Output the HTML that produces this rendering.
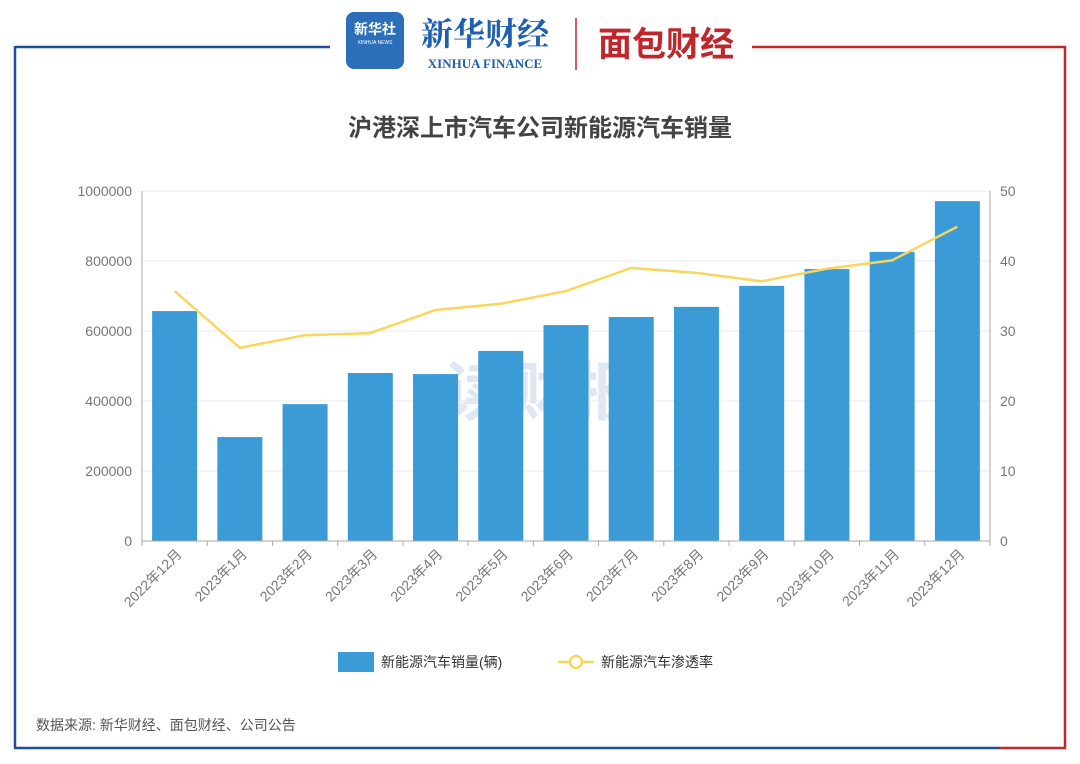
<!DOCTYPE html>
<html><head><meta charset="utf-8">
<style>
body{margin:0;width:1080px;height:764px;background:#fff;overflow:hidden;font-family:"Liberation Sans","Noto Sans CJK SC",sans-serif;}
svg{position:absolute;left:0;top:0}
</style></head><body>
<svg id="c" width="1080" height="764">
  <g>
    <line x1="15" y1="47" x2="330" y2="47" stroke="#1f4e9c" stroke-width="2.5"/>
    <line x1="15" y1="46" x2="15" y2="748" stroke="#1f4e9c" stroke-width="2.5"/>
    <line x1="14" y1="748" x2="1000" y2="748" stroke="#1f4e9c" stroke-width="2.5"/>
    <line x1="1000" y1="748" x2="1066" y2="748" stroke="#c0272d" stroke-width="2.5"/>
    <line x1="752" y1="47" x2="1066" y2="47" stroke="#c0272d" stroke-width="2.5"/>
    <line x1="1065" y1="46" x2="1065" y2="749" stroke="#c0272d" stroke-width="2.5"/>
  </g>
  <g>
    <rect x="346" y="12" width="58" height="57" rx="8" fill="#2a6fb8"/>
    <text x="375" y="34" font-size="14" fill="#fff" text-anchor="middle" font-weight="bold">新华社</text>
    <text x="375" y="44" font-size="5" fill="#fff" text-anchor="middle">XINHUA NEWS</text>
    <text x="485" y="45" font-size="32" fill="#1f5fb0" text-anchor="middle" font-weight="bold" font-family="'Noto Serif CJK SC',serif">新华财经</text>
    <text x="485" y="68" font-size="13" fill="#1f5fb0" text-anchor="middle" font-weight="bold" font-family="'Liberation Serif',serif">XINHUA FINANCE</text>
    <line x1="576" y1="18" x2="576" y2="70" stroke="#c0272d" stroke-width="1.5"/>
    <text x="666" y="56" font-size="34" fill="#c0272d" text-anchor="middle" font-weight="bold">面包财经</text>
  </g>
  <text x="540" y="136" font-size="24" font-weight="bold" fill="#444" text-anchor="middle">沪港深上市汽车公司新能源汽车销量</text>
  <text x="540" y="415" font-size="64" font-weight="bold" fill="#d4deec" text-anchor="middle" opacity="0.7">读财报</text>
  <g id="grid"></g><g id="bars"></g><g id="line"></g><g id="axes"></g>
  <g>
    <rect x="338" y="652" width="36" height="20" fill="#3a9bd6"/>
    <text x="381" y="667" font-size="14" fill="#333">新能源汽车销量(辆)</text>
    <line x1="558" y1="662" x2="594" y2="662" stroke="#f9d65c" stroke-width="2.5"/>
    <circle cx="576" cy="662" r="6" fill="#fff" stroke="#f9d65c" stroke-width="2.5"/>
    <text x="601" y="667" font-size="14" fill="#333">新能源汽车渗透率</text>
  </g>
  <text x="36" y="730" font-size="14" fill="#555">数据来源: 新华财经、面包财经、公司公告</text>
</svg>
<script>
const categories=["2022年12月","2023年1月","2023年2月","2023年3月","2023年4月","2023年5月","2023年6月","2023年7月","2023年8月","2023年9月","2023年10月","2023年11月","2023年12月"];
const sales=[657000,297000,391000,480000,477000,543000,617000,640000,669000,729000,777000,826000,971000];
const penetration=[35.7,27.6,29.4,29.7,33.0,33.9,35.7,39.0,38.3,37.1,38.9,40.1,44.9];
const leftTicks=[0,200000,400000,600000,800000,1000000];
const rightTicks=[0,10,20,30,40,50];
const NS="http://www.w3.org/2000/svg";
const X0=142,X1=990,Y0=541,Y1=191;
const bw=(X1-X0)/categories.length;
const xC=i=>X0+bw*(i+0.5);
const yL=v=>Y0-(v/1000000)*(Y0-Y1);
const yR=v=>Y0-(v/50)*(Y0-Y1);
function mk(tag,attrs,parent){const e=document.createElementNS(NS,tag);for(const k in attrs)e.setAttribute(k,attrs[k]);document.getElementById(parent).appendChild(e);return e;}
leftTicks.forEach((t,i)=>{
  const y=yL(t);
  if(i>0){const g=mk('line',{x1:X0,x2:X1,y1:y,y2:y,stroke:'#e4e8f0'},'grid');
  
  }
  const tx=mk('text',{x:X0-10,y:y+5,'font-size':14,fill:'#777','text-anchor':'end'},'axes');tx.textContent=t;
  
  
});
rightTicks.forEach(t=>{
  const tx=mk('text',{x:X1+10,y:yR(t)+5,'font-size':14,fill:'#777'},'axes');tx.textContent=t;
  
  
});
mk('line',{x1:X0,x2:X0,y1:Y1,y2:Y0,stroke:'#aaa'},'axes');
mk('line',{x1:X1,x2:X1,y1:Y1,y2:Y0,stroke:'#aaa'},'axes');
mk('line',{x1:X0,x2:X1,y1:Y0,y2:Y0,stroke:'#aaa'},'axes');
for(let i=0;i<=categories.length;i++){mk('line',{x1:X0+bw*i,x2:X0+bw*i,y1:Y0,y2:Y0+5,stroke:'#aaa'},'axes');}
categories.forEach((c,i)=>{
  const b=mk('rect',{x:xC(i)-22.5,y:yL(sales[i]),width:45,height:Y0-yL(sales[i]),fill:'#3a9bd6'},'bars');
  
  
  const x=xC(i)+8,y=Y0+14;
  const t=mk('text',{x:x,y:y,'font-size':14,fill:'#777','text-anchor':'end',transform:`rotate(-45 ${x} ${y})`},'axes');t.textContent=c;
  
  
});
const pts=penetration.map((v,i)=>xC(i)+','+yR(v)).join(' ');
const pl=mk('polyline',{points:pts,fill:'none',stroke:'#f9d65c','stroke-width':2.5},'line');


</script>
</body></html>
